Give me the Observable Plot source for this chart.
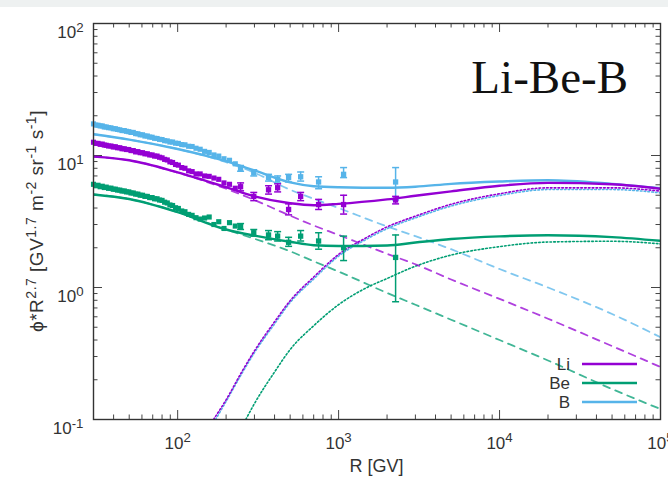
<!DOCTYPE html>
<html><head><meta charset="utf-8">
<script src="https://cdn.jsdelivr.net/npm/d3@7"></script>
<script src="https://cdn.jsdelivr.net/npm/@observablehq/plot@0.6"></script>
<style>
body{margin:0;background:#fff;width:668px;height:482px;overflow:hidden;position:relative;font-family:"Liberation Sans",Arial,sans-serif}
#band{position:absolute;left:0;top:0;width:668px;height:7px;background:#eef1f1;z-index:2}
#chart{position:absolute;left:0;top:0}
</style></head><body>
<div id="band"></div><div id="chart"></div>
<script>
// ---- data ----
const species = ["Li", "Be", "B"];
const colors = ["#9400d3", "#009e73", "#56b4e9"];

const denseR = [30, 31, 32, 33, 34, 35, 36, 37.2, 38.5, 39.8, 41, 42.3, 43.7, 45.1, 46.6, 48.1, 49.7, 51.3, 53, 54.8, 56.6, 58.5, 60.5, 62.6, 64.8, 67, 69.4, 71.9, 74.5, 77.2, 80, 83, 86.2, 89.5, 93, 97, 101, 106, 111, 117, 123, 130, 138, 147, 157, 168, 180, 194, 210, 228];
const liDense = [12.6, 12.35, 12.35, 12.15, 12.2, 12.0, 11.95, 11.8, 11.8, 11.6, 11.65, 11.45, 11.45, 11.25, 11.25, 11.1, 11.1, 10.9, 10.9, 10.65, 10.7, 10.5, 10.5, 10.3, 10.3, 10.1, 10.1, 9.9, 9.9, 9.7, 9.6, 9.35, 9.25, 8.95, 8.85, 8.55, 8.45, 8.1, 8.0, 7.65, 7.55, 7.25, 7.25, 7.0, 6.95, 6.75, 6.6, 6.2, 6.05, 5.65];
const beDense = [6.05, 5.9, 5.95, 5.8, 5.85, 5.72, 5.76, 5.64, 5.66, 5.55, 5.56, 5.47, 5.47, 5.38, 5.39, 5.3, 5.3, 5.2, 5.2, 5.1, 5.1, 5.0, 5.0, 4.9, 4.9, 4.8, 4.8, 4.7, 4.7, 4.6, 4.57, 4.43, 4.37, 4.22, 4.18, 4.02, 3.97, 3.8, 3.75, 3.58, 3.52, 3.38, 3.3, 3.36, 3.42, 3.0, 3.15, 2.8, 3.1, 2.92];
const bDense = [17.35, 17.0, 16.95, 16.75, 16.75, 16.45, 16.45, 16.25, 16.2, 15.95, 15.95, 15.75, 15.65, 15.45, 15.45, 15.25, 15.15, 14.95, 14.95, 14.65, 14.6, 14.35, 14.35, 14.05, 14.05, 13.8, 13.75, 13.5, 13.45, 13.25, 13.2, 12.95, 12.9, 12.65, 12.65, 12.4, 12.35, 12.1, 12.05, 11.75, 11.7, 11.35, 11.15, 10.75, 10.55, 10.1, 9.9, 9.45, 9.2, 8.65];

const sparseR = [246, 297, 367, 418, 489, 581, 751, 1074, 2260];
const liSparse = [5.8, 4.9, 5.5, 5.7, 3.9, 4.9, 4.25, 4.25, 4.6];
const liLo = [5.4, 4.55, 5.1, 5.3, 3.55, 4.55, 3.9, 3.6, 4.3];
const liHi = [6.2, 5.25, 5.9, 6.1, 4.3, 5.25, 4.65, 5.0, 4.9];
const beSparse = [2.9, 2.6, 2.5, 2.45, 2.2, 2.45, 2.25, 2.0, 1.69];
const beLo = [2.75, 2.45, 2.3, 2.25, 2.05, 2.25, 1.95, 1.6, 0.78];
const beHi = [3.05, 2.75, 2.7, 2.65, 2.4, 2.7, 2.6, 2.45, 2.5];
const bSparse = [8.0, 7.4, 6.8, 6.6, 6.8, 6.9, 6.3, 7.2, 6.3];
const bLo = [7.6, 7.0, 6.4, 6.2, 6.3, 6.4, 5.6, 6.8, 4.6];
const bHi = [8.4, 7.8, 7.2, 7.0, 7.2, 7.5, 6.9, 8.1, 8.1];

const modelR = [30, 50, 100, 200, 300, 500, 700, 1000, 2000, 3000, 5000, 10000, 20000, 50000, 100000];
const liSolid = [9.8, 9.2, 7.45, 5.75, 4.9, 4.35, 4.2, 4.3, 4.65, 4.95, 5.35, 5.9, 6.2, 6.05, 5.6];
const liDashed = [9.8, 9.2, 7.4, 5.6, 4.6, 3.5, 2.95, 2.5, 1.8, 1.5, 1.15, 0.82, 0.58, 0.36, 0.25];
const beSolid = [5.07, 4.68, 3.72, 2.75, 2.47, 2.22, 2.09, 2.06, 2.08, 2.19, 2.33, 2.44, 2.49, 2.41, 2.26];
const beDashed = [5.07, 4.68, 3.72, 2.75, 2.34, 1.88, 1.58, 1.32, 0.91, 0.74, 0.57, 0.40, 0.28, 0.17, 0.12];
const bSolid = [14.5, 13.2, 11.2, 9.05, 7.7, 6.25, 5.85, 5.75, 5.7, 5.8, 6.1, 6.35, 6.5, 6.1, 5.65];
const bDashed = [14.5, 13.2, 11.2, 8.9, 7.4, 5.5, 4.7, 4.0, 2.9, 2.45, 1.95, 1.38, 1.0, 0.63, 0.42];

const liDotR = [167, 200, 250, 300, 400, 500, 700, 1000, 1500, 2000, 3000, 5000, 10000, 20000, 50000, 100000];
const liDotted = [0.1, 0.141, 0.229, 0.331, 0.55, 0.794, 1.2, 1.78, 2.4, 2.88, 3.47, 4.27, 5.13, 5.69, 5.69, 5.37];
const bDotR = [172, 200, 250, 300, 400, 500, 700, 1000, 1500, 2000, 3000, 5000, 10000, 20000, 50000, 100000];
const bDotted = [0.1, 0.137, 0.222, 0.321, 0.53, 0.77, 1.16, 1.73, 2.33, 2.79, 3.37, 4.14, 4.98, 5.52, 5.52, 5.21];
const beDotR = [265, 300, 400, 500, 700, 1000, 1500, 2000, 3000, 5000, 10000, 20000, 50000, 100000];
const beDotted = [0.1, 0.132, 0.229, 0.339, 0.513, 0.741, 1.0, 1.17, 1.45, 1.76, 2.04, 2.21, 2.24, 2.14];

const xTickValues = [100, 1000, 10000, 100000];
const yTickValues = [0.1, 1, 10, 100];
const title = "Li-Be-B";
const xLabel = "R [GV]";

// ---- build tables ----
const rows = (sp, R, v, lo, hi) => R.map((r, i) => ({sp, R: r, v: v[i], lo: lo ? lo[i] : null, hi: hi ? hi[i] : null}));
const denseData = [...rows("B", denseR, bDense), ...rows("Li", denseR, liDense), ...rows("Be", denseR, beDense)];
const sparseData = [...rows("B", sparseR, bSparse, bLo, bHi), ...rows("Li", sparseR, liSparse, liLo, liHi), ...rows("Be", sparseR, beSparse, beLo, beHi)];
const solidData = [...rows("B", modelR, bSolid), ...rows("Li", modelR, liSolid), ...rows("Be", modelR, beSolid)];
const dashedData = [...rows("B", modelR, bDashed), ...rows("Li", modelR, liDashed), ...rows("Be", modelR, beDashed)];
const dottedData = [...rows("B", bDotR, bDotted), ...rows("Li", liDotR, liDotted), ...rows("Be", beDotR, beDotted)];

const W = 668, H = 482, mL = 93, mR = 8, mT = 23, mB = 63;
const plotW = W - mL - mR, plotH = H - mT - mB;
const xAll = d3.scaleLog().domain([30, 1e5]).ticks();
const yAll = d3.scaleLog().domain([0.1, 100]).ticks();
const xMinor = xAll.filter(v => !xTickValues.includes(v));
const yMinor = yAll.filter(v => !yTickValues.includes(v));
const capSym = {draw(ctx, size) { const r = Math.sqrt(size / Math.PI); ctx.moveTo(-r, 0); ctx.lineTo(r, 0); }};
const colorScale = {domain: species, range: colors};

const tickStyle = {stroke: "#444", strokeWidth: 1};
const chart = Plot.plot({
  width: W, height: H, marginLeft: mL, marginRight: mR, marginTop: mT, marginBottom: mB,
  x: {type: "log", domain: [30, 1e5]},
  y: {type: "log", domain: [0.1, 100]},
  color: colorScale,
  style: {background: "transparent", fontFamily: "Liberation Sans, Arial, sans-serif", color: "#333"},
  marks: [
    Plot.tickX(xTickValues, {x: d => d, insetTop: plotH - 9, ...tickStyle}),
    Plot.tickX(xTickValues, {x: d => d, insetBottom: plotH - 9, ...tickStyle}),
    Plot.tickX(xMinor, {x: d => d, insetTop: plotH - 4.5, ...tickStyle}),
    Plot.tickX(xMinor, {x: d => d, insetBottom: plotH - 4.5, ...tickStyle}),
    Plot.tickY(yTickValues, {y: d => d, insetRight: plotW - 9, ...tickStyle}),
    Plot.tickY(yTickValues, {y: d => d, insetLeft: plotW - 9, ...tickStyle}),
    Plot.tickY(yMinor, {y: d => d, insetRight: plotW - 4.5, ...tickStyle}),
    Plot.tickY(yMinor, {y: d => d, insetLeft: plotW - 4.5, ...tickStyle}),
    Plot.line(dottedData, {x: "R", y: "v", z: "sp", stroke: "sp", strokeWidth: 1.6, strokeDasharray: "1.6,2.2", curve: "monotone-x", clip: true}),
    Plot.line(dashedData, {x: "R", y: "v", z: "sp", stroke: "sp", strokeWidth: 1.8, strokeOpacity: 0.75, strokeDasharray: "7,6", curve: "monotone-x", clip: true}),
    Plot.ruleX(sparseData, {x: "R", y1: "lo", y2: "hi", stroke: "sp", strokeWidth: 1.5}),
    Plot.dot(sparseData, {x: "R", y: "lo", symbol: capSym, r: 3.5, stroke: "sp", strokeWidth: 1.5, fill: "none"}),
    Plot.dot(sparseData, {x: "R", y: "hi", symbol: capSym, r: 3.5, stroke: "sp", strokeWidth: 1.5, fill: "none"}),
    Plot.dot(denseData, {x: "R", y: "v", symbol: "square", r: 2.9, fill: "sp"}),
    Plot.dot(sparseData, {x: "R", y: "v", symbol: "square", r: 3, fill: "sp"}),
    Plot.line(solidData, {x: "R", y: "v", z: "sp", stroke: "sp", strokeWidth: 2.4, curve: "monotone-x", clip: true}),
    Plot.frame({stroke: "#333", strokeWidth: 1.4}),
    Plot.axisX(xTickValues, {tickSize: 0, tickPadding: 17, tickFormat: d => String(Math.round(Math.log10(d))), label: null, fontSize: 17, fill: "#333"}),
    Plot.axisY(yTickValues, {tickSize: 0, tickPadding: 10, tickFormat: d => String(Math.round(Math.log10(d))), label: null, fontSize: 17, fill: "#333"})
  ]
});
document.getElementById("chart").appendChild(chart);

// ---- superscript tick labels ----
const svg = d3.select(chart);
const supify = (sel, isY) => sel.each(function() {
  const e = this.textContent;
  const t = d3.select(this);
  t.text(null);
  if (isY) t.attr("dy", "0.55em");
  t.append("tspan").text("10");
  t.append("tspan").attr("dy", "-0.5em").attr("font-size", "0.78em").text(e);
});
supify(svg.selectAll('g[aria-label="x-axis tick label"] text'), false);
supify(svg.selectAll('g[aria-label="y-axis tick label"] text'), true);

// ---- axis titles, title, legend ----
const ylab = svg.append("text")
  .attr("transform", `translate(43,${mT + plotH / 2}) rotate(-90)`)
  .attr("text-anchor", "middle").attr("font-size", 19).attr("fill", "#333")
  .attr("letter-spacing", 0.5)
  .attr("font-family", "Liberation Sans, Arial, sans-serif");
const parts = [["ϕ*R", 0], ["2.7", 1], [" [GV", 0], ["1.7", 1], [" m", 0], ["-2", 1], [" sr", 0], ["-1", 1], [" s", 0], ["-1", 1], ["]", 0]];
let up = false;
for (const [s, sup] of parts) {
  const ts = ylab.append("tspan").text(s);
  if (sup && !up) { ts.attr("dy", -7.5).attr("font-size", 14); up = true; }
  else if (sup) { ts.attr("font-size", 14); }
  else if (!sup && up) { ts.attr("dy", 7.5); up = false; }
}
svg.append("text").attr("x", mL + plotW / 2).attr("y", H - 10).attr("text-anchor", "middle")
  .attr("font-size", 18).attr("fill", "#333").attr("font-family", "Liberation Sans, Arial, sans-serif").text(xLabel);
svg.append("text").attr("x", W - mR - 32).attr("y", mT + 70).attr("text-anchor", "end")
  .attr("font-size", 47).attr("fill", "#111").attr("font-family", "Liberation Serif, Times New Roman, serif").text(title);

const legX = W - mR - 90, legY = mT + plotH - 55;
species.forEach((s, i) => {
  const y = legY + i * 19;
  svg.append("text").attr("x", legX).attr("y", y).attr("dy", "0.35em").attr("text-anchor", "end")
    .attr("font-size", 17).attr("fill", "#333").attr("font-family", "Liberation Sans, Arial, sans-serif").text(s);
  svg.append("line").attr("x1", legX + 12).attr("x2", legX + 67).attr("y1", y).attr("y2", y)
    .attr("stroke", colors[i]).attr("stroke-width", 2.6);
});
</script>
</body></html>
